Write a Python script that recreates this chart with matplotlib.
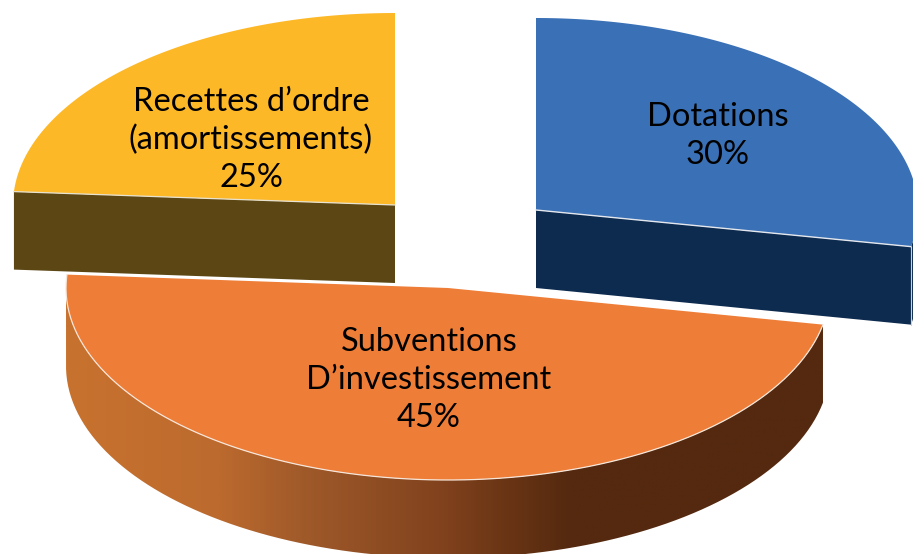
import numpy as np
import matplotlib
matplotlib.use("Agg")
import matplotlib.pyplot as plt
from matplotlib.colors import LinearSegmentedColormap
from matplotlib.patches import PathPatch
from matplotlib.path import Path

# data
labels = ["Dotations", "Subventions\nD\u2019investissement", "Recettes d\u2019ordre\n(amortissements)"]
shares = [30, 45, 25]

# look of the tilted pie (pixels)
rx = 382
ry = 192
depth = 78
centers = [(536, 210), (448, 288), (395, 205)]
label_pos = [(718, 136), (429, 380), (251, 140)]
tops = ["#3A70B5", "#ED7D37", "#FDB827"]
sides = ["#0D2A4F", "#C4702F", "#5C4714"]

# the tilt moves the slice borders along the ellipse a little
edges = np.cumsum([0] + shares)
angles = np.interp(edges, [0, 30, 75, 100], [0, 101, 274, 360])


def arc(c, a0, a1, n=200):
    t = np.radians(np.linspace(a0, a1, n))
    return np.column_stack([c[0] + rx*np.sin(t), c[1] - ry*np.cos(t)])


fig = plt.figure(figsize=(9.13, 5.54), dpi=100)
ax = fig.add_axes([0, 0, 1, 1])
ax.set_xlim(0, 913)
ax.set_ylim(554, 0)
ax.axis("off")

side_cmap = LinearSegmentedColormap.from_list(
    "side", [(0, "#C8722F"), (0.2, "#BC6A2E"), (0.31, "#A05A2A"), (0.51, "#7E401C"), (0.58, "#6A3515"), (0.67, "#54290F"), (1, "#54290F")])

for i in [2, 0, 1]:
    c = np.array(centers[i], dtype=float)
    a0, a1 = angles[i], angles[i+1]
    rim = arc(c, a0, a1)
    drop = np.array([0, depth])

    # outer side
    low = max(a0, 90)
    high = min(a1, 270)
    if low < high:
        r = arc(c, low, high)
        poly = np.vstack([r, (r + drop)[::-1], r[:1]])
        patch = PathPatch(Path(poly), fc="none", ec="none")
        ax.add_patch(patch)
        if i == 1:
            grad = np.linspace(0, 1, 400).reshape(1, -1)
            im = ax.imshow(grad, extent=[r[:, 0].min(), r[:, 0].max(), 560, 280],
                           cmap=side_cmap, aspect="auto", zorder=1+i)
            im.set_clip_path(patch)
            ax.set_xlim(0, 913)
            ax.set_ylim(554, 0)
        else:
            patch.set_facecolor(sides[i])
            patch.set_zorder(1+i)

    # cut faces seen from the front
    if i == 0:
        end = rim[-1]
        poly = np.vstack([c, end, end + drop, c + drop, c])
        ax.add_patch(PathPatch(Path(poly), fc=sides[i], ec="none", zorder=1+i))
        ax.plot([end[0], end[0]], [end[1], end[1]+depth], color="#C9D3E0", lw=0.8, zorder=2+i)
    if i == 2:
        start = rim[0]
        poly = np.vstack([start, c, c + drop, start + drop, start])
        ax.add_patch(PathPatch(Path(poly), fc=sides[i], ec="none", zorder=1+i))

    # top face
    poly = np.vstack([c, rim, c])
    ax.add_patch(PathPatch(Path(poly), fc=tops[i], ec="none", zorder=2+i))

    # thin light edge where top meets side
    if i == 0:
        ax.plot([c[0], rim[-1, 0]], [c[1], rim[-1, 1]], color="#E4E8EE", lw=1, zorder=3+i)
    elif i == 1:
        ax.plot(rim[:, 0], rim[:, 1], color="#F6E6DA", lw=0.9, zorder=3+i)
    else:
        ax.plot([rim[0, 0], c[0]], [rim[0, 1], c[1]], color="#E8E2D0", lw=0.9, zorder=3+i)

    text = "%s\n%d%%" % (labels[i], shares[i])
    ax.text(label_pos[i][0], label_pos[i][1], text, ha="center", va="center",
            fontfamily="Lato", fontsize=23.5, linespacing=1.33, color="black", zorder=10)

fig.savefig("out.png", dpi=100)
